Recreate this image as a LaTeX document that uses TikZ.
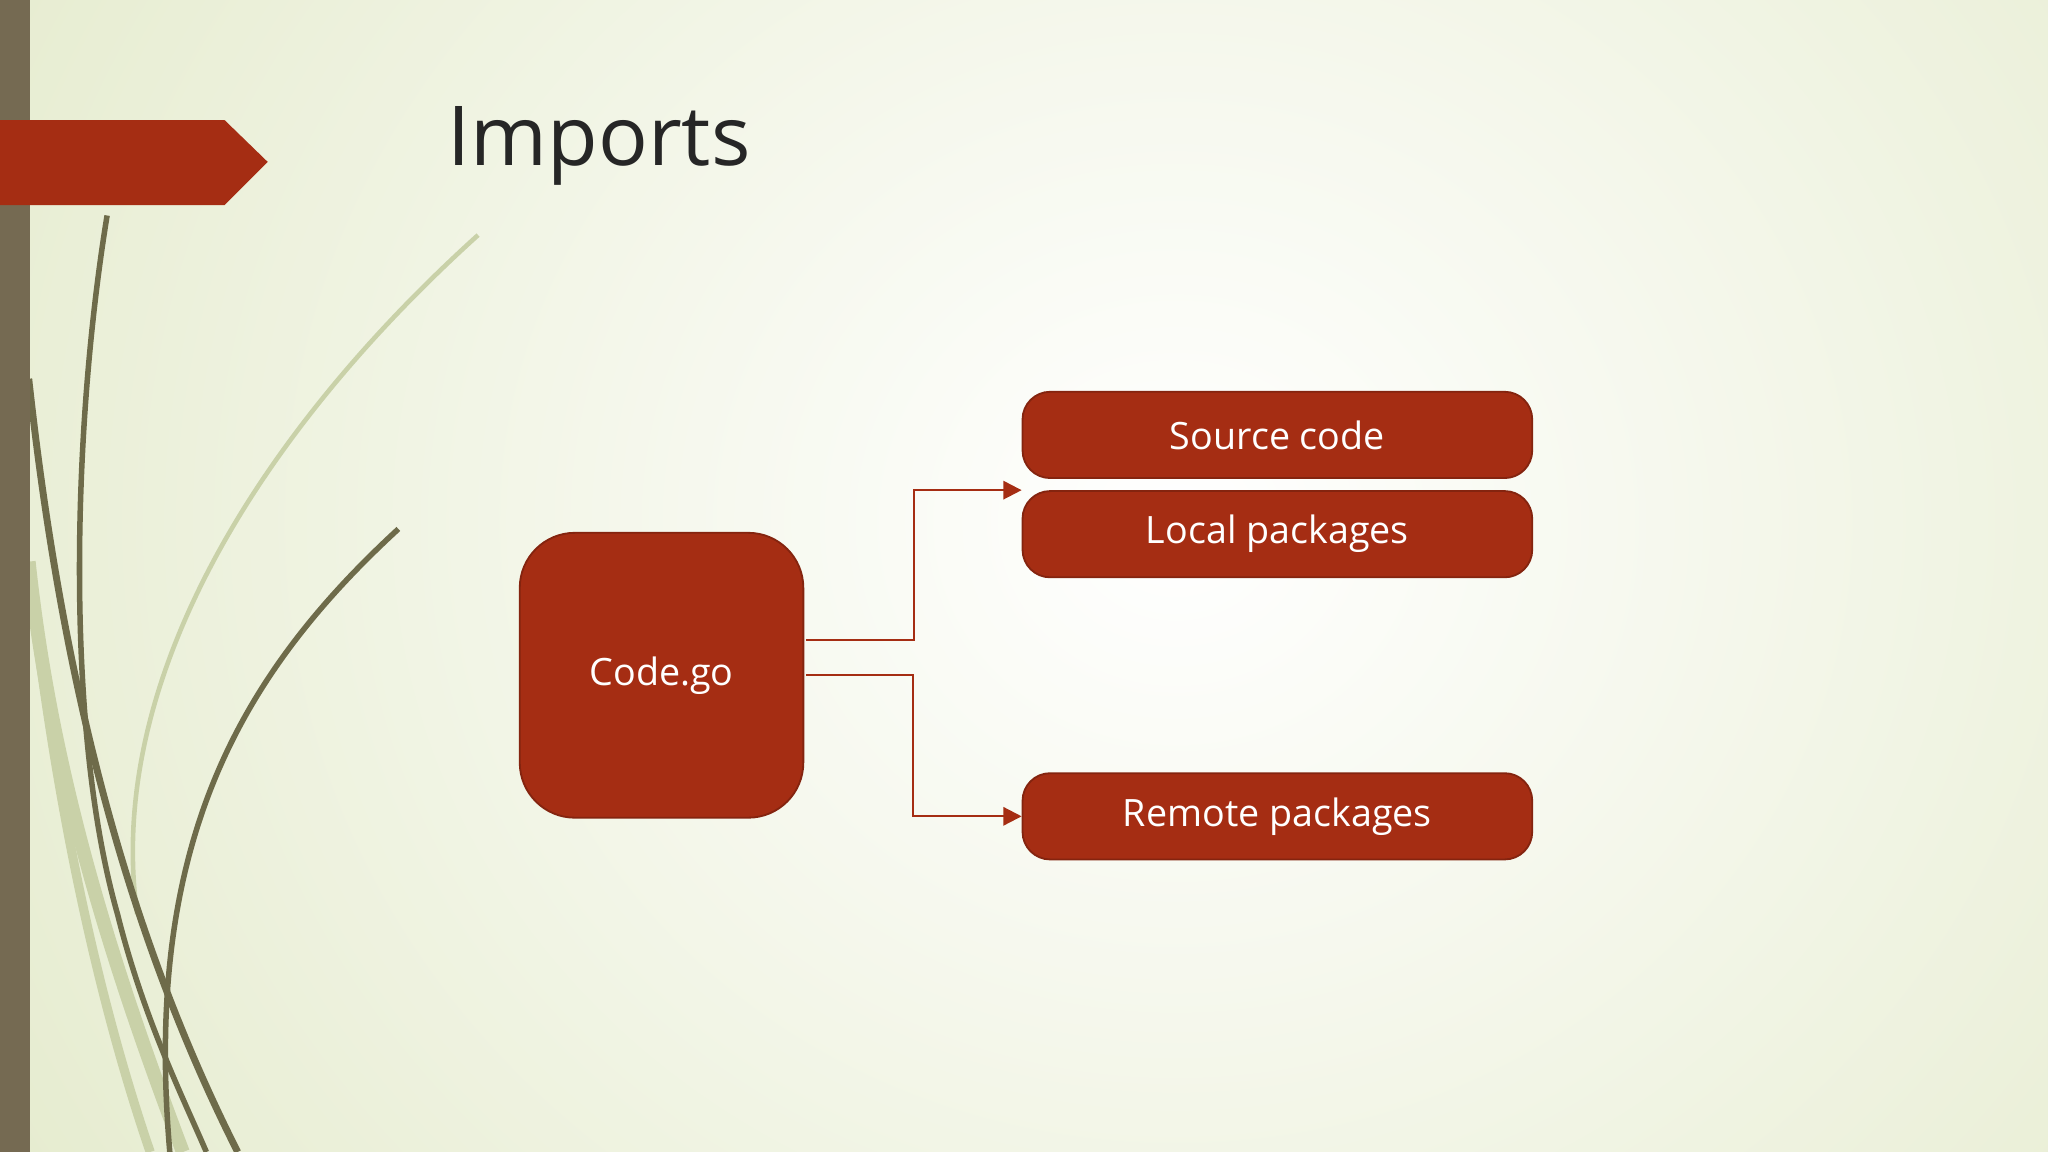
\documentclass[tikz,border=0pt]{standalone}
\usepackage{fontspec}
\setmainfont{Open Sans}
\usetikzlibrary{arrows.meta}
\definecolor{rust}{HTML}{A52D13}
\definecolor{bgG}{HTML}{E2E9C8}
\definecolor{barB}{HTML}{756A52}
\definecolor{olive}{HTML}{6E6B4A}
\definecolor{pale}{HTML}{C9D1A8}
\begin{document}
\begin{tikzpicture}[x=0.01cm,y=-0.01cm,
  box/.style={draw=rust!80!black,fill=rust,rounded corners=6,text=white,minimum width=3.9cm,minimum height=0.66cm,font=\fontsize{8.2pt}{10pt}\selectfont,inner sep=0pt},
  conn/.style={draw=rust,line width=0.5pt,-{Triangle[length=4pt,width=4pt]}}]
\useasboundingbox (0,0) rectangle (1568,882);
\fill[bgG] (0,0) rectangle (1568,882);
\shade[inner color=white,outer color=bgG] (-300,-700) rectangle (2100,1500);
% decorative curves
\draw[pale,line width=1pt] (366,180) .. controls (200,330) and (80,520) .. (105,700);
\draw[pale,line width=3pt] (22,430) .. controls (40,600) and (90,750) .. (140,882);
\draw[pale,line width=2pt] (30,500) .. controls (50,650) and (80,780) .. (115,882);
\draw[olive,line width=1.2pt] (82,165) .. controls (55,330) and (50,560) .. (90,700) .. controls (110,780) and (140,840) .. (158,882);
\draw[olive,line width=1.5pt] (22,290) .. controls (45,500) and (90,700) .. (182,882);
\draw[olive,line width=1.2pt] (305,405) .. controls (180,520) and (110,650) .. (130,882);
\fill[barB] (0,0) rectangle (23,882);
\fill[rust] (0,92) -- (172,92) -- (205,124) -- (172,157) -- (0,157) -- cycle;
\node[anchor=base west,inner sep=0pt,text=black!85,font=\fontsize{18pt}{22pt}\selectfont] (title) at (342,127) {Imports};
\node[draw=rust!80!black,fill=rust,rounded corners=12,minimum width=2.17cm,minimum height=2.18cm,text=white,font=\fontsize{8.2pt}{10pt}\selectfont,inner sep=0pt] (code) at (506.5,517) {Code.go};
\node[box] (src) at (978,333) {Source code};
\node[box] (loc) at (978,409) {Local packages};
\node[box] (rem) at (978,625) {Remote packages};
\coordinate (a1) at (617,490);
\coordinate (a2) at (617,517);
\draw[conn] (a1) -- (700,490) |- (loc.north west);
\draw[conn] (a2) -- (699,517) |- (rem.west);
\end{tikzpicture}
\end{document}
